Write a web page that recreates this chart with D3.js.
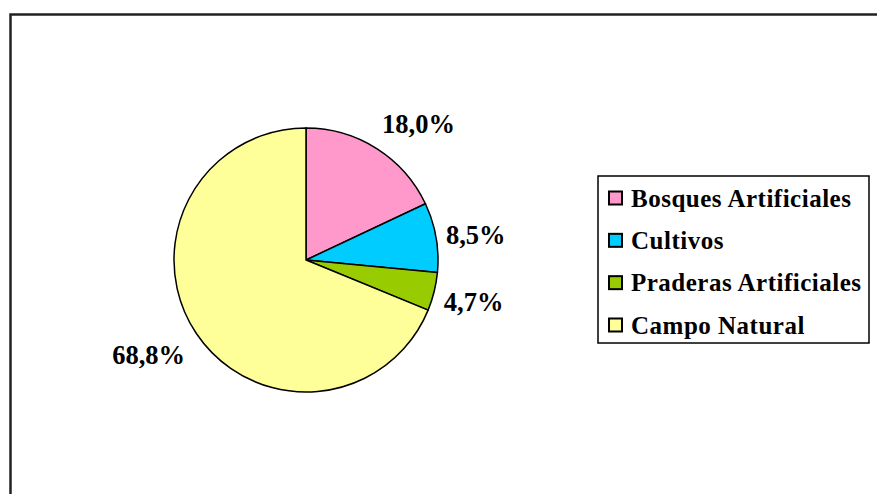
<!DOCTYPE html>
<html>
<head>
<meta charset="utf-8">
<script src="https://cdn.jsdelivr.net/npm/d3@7"></script>
<style>
  body { margin: 0; background: #fff; }
  text { font-family: "Liberation Serif", "Times New Roman", serif; font-weight: bold; }
</style>
</head>
<body>
<script>
// uso del suelo (%)
var categories = ["Bosques Artificiales", "Cultivos", "Praderas Artificiales", "Campo Natural"];
var values = [18.0, 8.5, 4.7, 68.8];
var labels = ["18,0%", "8,5%", "4,7%", "68,8%"];
var colors = ["#ff99cc", "#00ccff", "#99cc00", "#ffff99"];

var width = 877, height = 494;
var cx = 306, cy = 260, radius = 132;

var svg = d3.select("body").append("svg")
    .attr("width", width)
    .attr("height", height);

// marco del grafico (se corta a la derecha y abajo)
svg.append("rect")
    .attr("x", 10.5)
    .attr("y", 14.5)
    .attr("width", width + 20)
    .attr("height", height + 20)
    .attr("fill", "none")
    .attr("stroke", "#222")
    .attr("stroke-width", 2.5);

var pie = d3.pie().sort(null).value(function(d) { return d; });
var arcs = pie(values);

var arc = d3.arc().innerRadius(0).outerRadius(radius);

var g = svg.append("g").attr("transform", "translate(" + cx + "," + cy + ")");

g.selectAll("path").data(arcs).enter().append("path")
    .attr("d", arc)
    .attr("fill", function(d, i) { return colors[i]; })
    .attr("stroke", "#000")
    .attr("stroke-width", 1.5);

// etiquetas fuera del pastel
var labelR = radius + 10;
var fs = 26.5;
function mid(d) { return (d.startAngle + d.endAngle) / 2; }
g.selectAll("text.pct").data(arcs).enter().append("text")
    .attr("class", "pct")
    .attr("font-size", fs)
    .attr("text-anchor", function(d) {
        return Math.sin(mid(d)) >= 0 ? "start" : "end";
    })
    .attr("x", function(d) {
        var a = mid(d);
        return Math.sin(a) * labelR + (Math.sin(a) < 0 ? -3 : 0);
    })
    .attr("y", function(d) {
        var a = mid(d);
        return -Math.cos(a) * labelR - Math.cos(a) * fs * 0.85 + fs * 0.45;
    })
    .text(function(d, i) { return labels[i]; });

// leyenda
var lx = 598, ly = 176, lw = 271, lh = 167;
var legend = svg.append("g");
legend.append("rect")
    .attr("x", lx).attr("y", ly)
    .attr("width", lw).attr("height", lh)
    .attr("fill", "#fff")
    .attr("stroke", "#000")
    .attr("stroke-width", 1.5);

var rowY = d3.scalePoint().domain(categories).range([ly + 22, ly + 149]);

var item = legend.selectAll("g.item").data(categories).enter().append("g")
    .attr("class", "item")
    .attr("transform", function(d) { return "translate(" + (lx + 11) + "," + rowY(d) + ")"; });

item.append("rect")
    .attr("x", 0).attr("y", -6.5)
    .attr("width", 13).attr("height", 13)
    .attr("fill", function(d, i) { return colors[i]; })
    .attr("stroke", "#000")
    .attr("stroke-width", 2);

item.append("text")
    .attr("x", 22)
    .attr("y", 8.5)
    .attr("font-size", 25)
    .attr("letter-spacing", 0.5)
    .text(function(d) { return d; });
</script>
</body>
</html>
